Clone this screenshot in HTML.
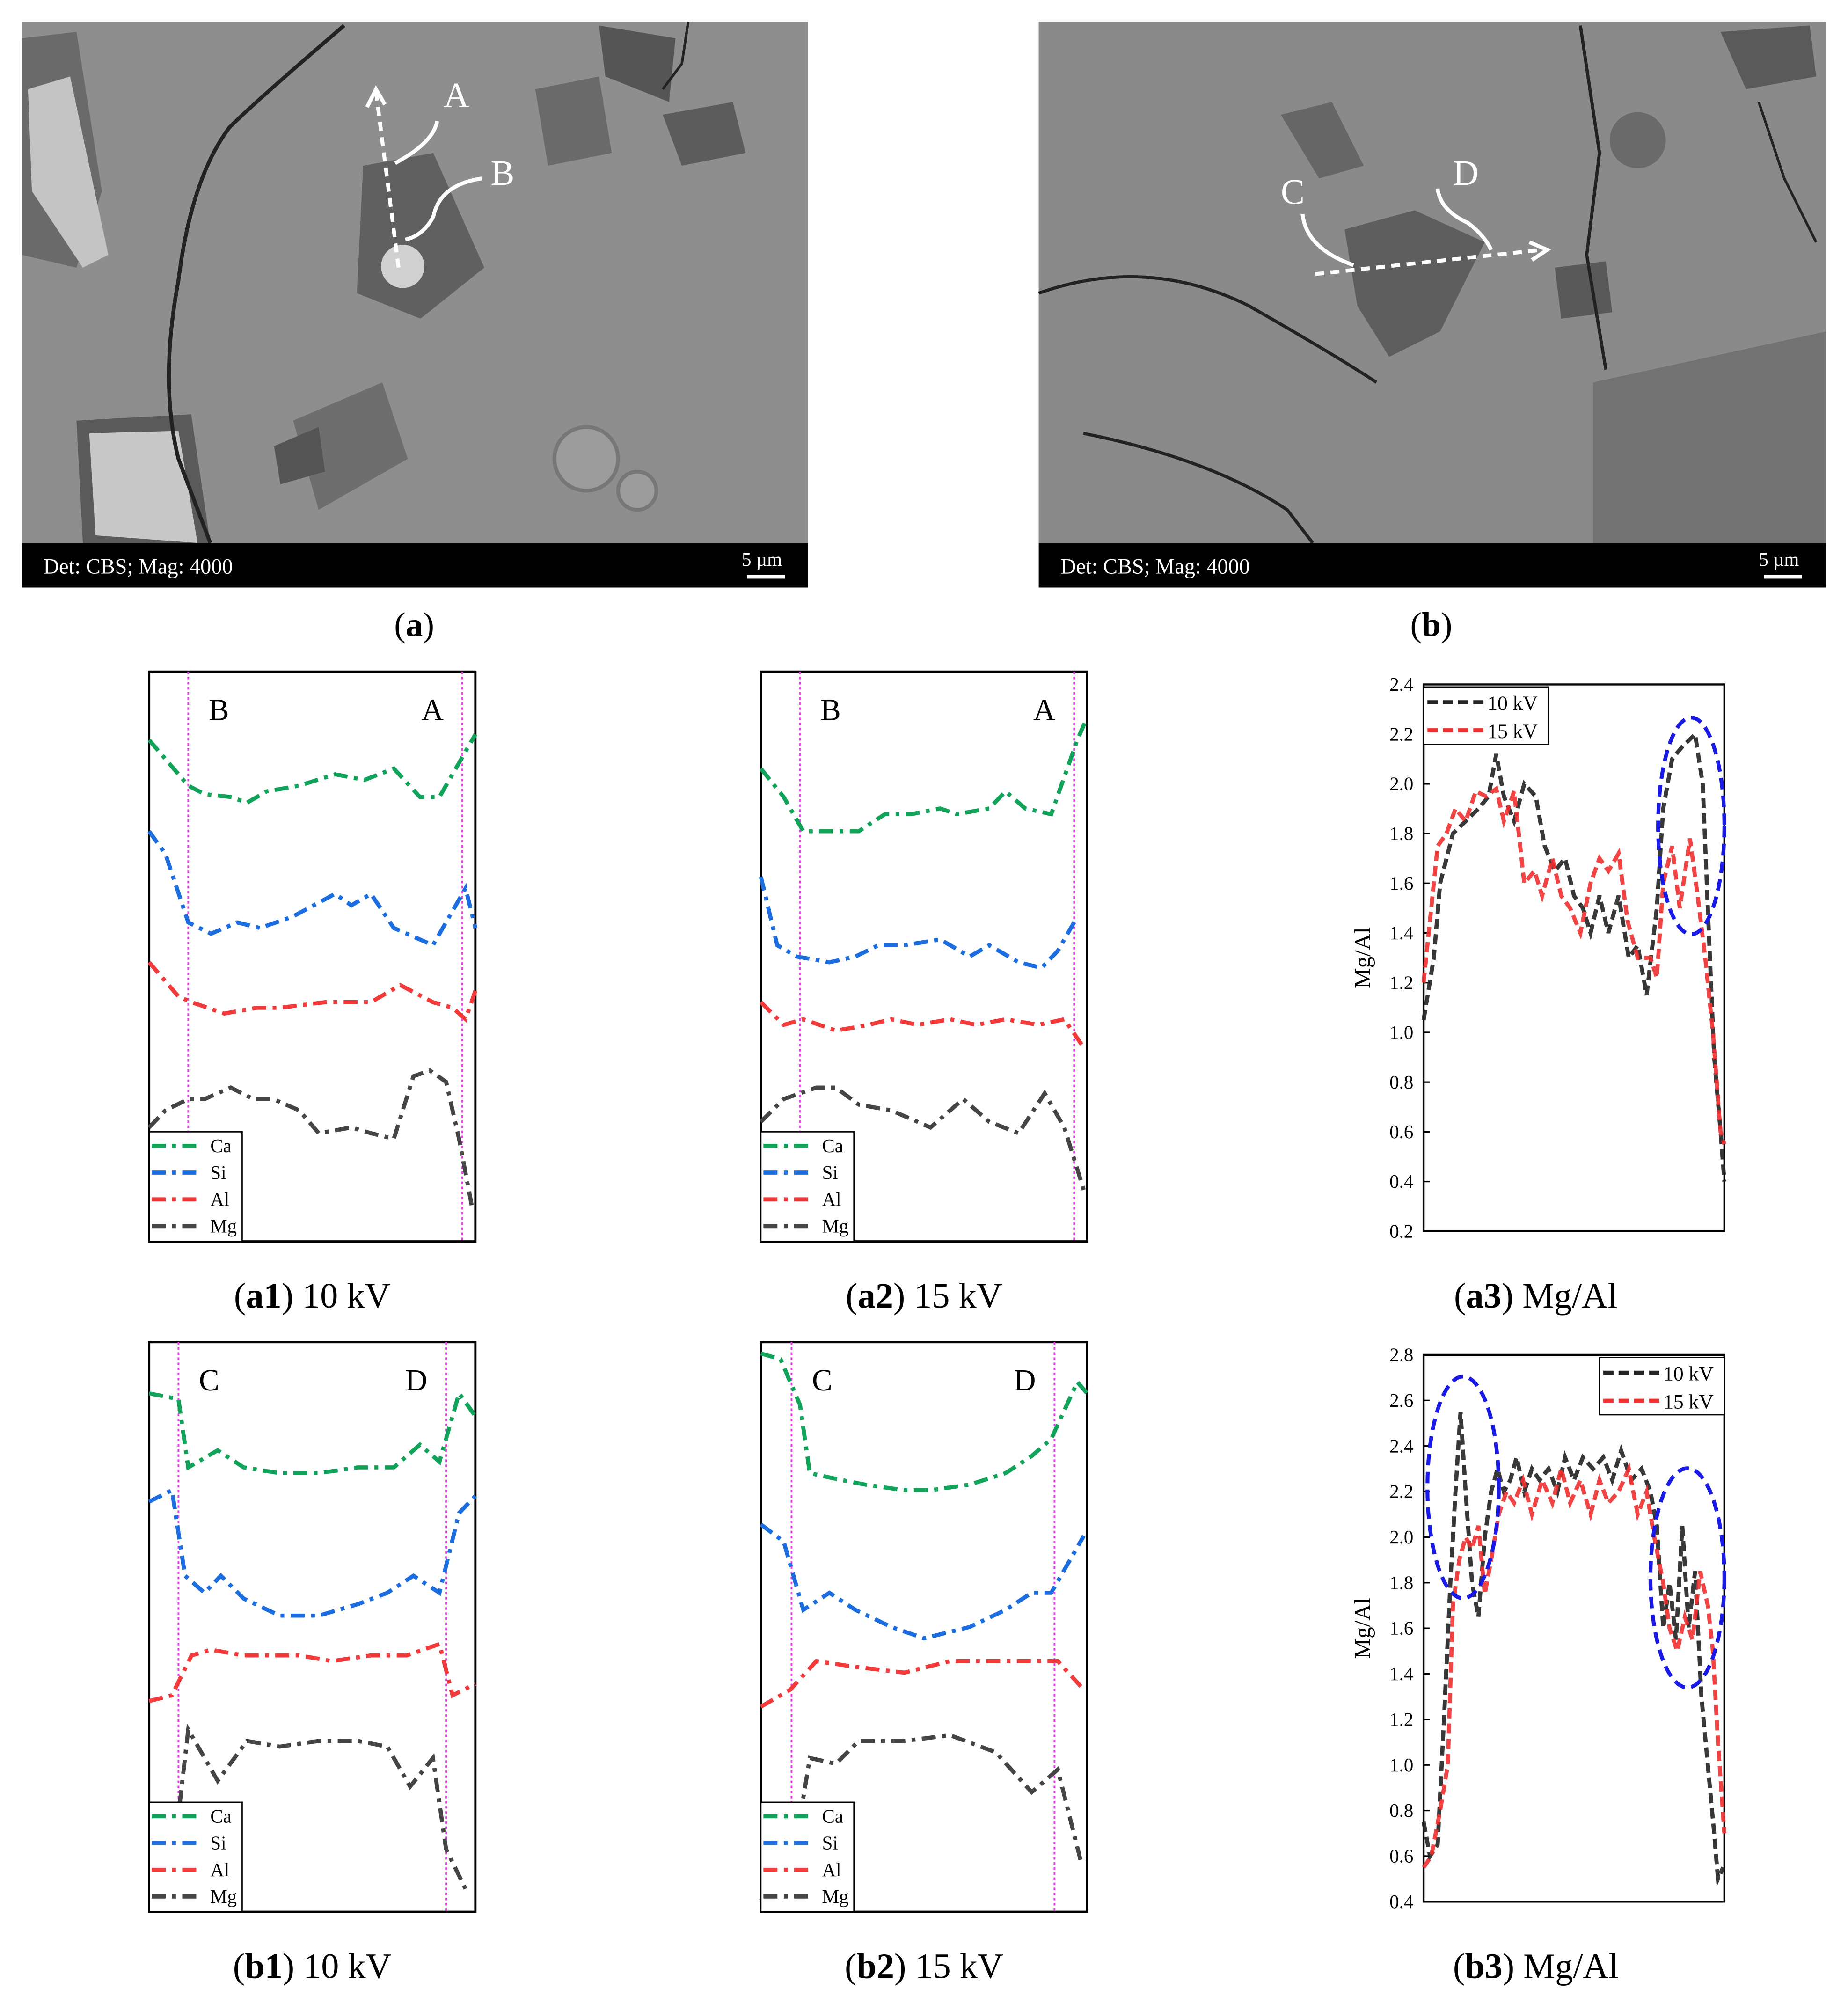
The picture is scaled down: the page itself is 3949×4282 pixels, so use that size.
<!DOCTYPE html>
<html><head><meta charset="utf-8">
<style>
html,body{margin:0;padding:0;background:#fff;}
svg{display:block;}
text{font-family:"Liberation Serif",serif;}
</style></head>
<body>
<svg id="fig" width="3949" height="4282" viewBox="0 0 1450 1572.3" preserveAspectRatio="none" xmlns="http://www.w3.org/2000/svg">
<!-- SEM image a -->
<g>
<rect x="17" y="17" width="617" height="409" fill="#8e8e8e"/>
<path d="M17 30 L60 25 L80 150 L60 210 L17 200Z" fill="#6a6a6a"/>
<path d="M22 70 L55 60 L85 200 L65 210 L25 150Z" fill="#c4c4c4"/>
<path d="M60 330 L150 325 L165 426 L65 426Z" fill="#5a5a5a"/>
<path d="M70 340 L140 338 L155 426 L75 420Z" fill="#c8c8c8"/>
<path d="M285 130 L340 120 L380 210 L330 250 L280 230Z" fill="#606060"/>
<circle cx="316" cy="209" r="17" fill="#d0d0d0"/>
<path d="M230 330 L300 300 L320 360 L250 400Z" fill="#6e6e6e"/>
<path d="M520 90 L575 80 L585 120 L535 130Z" fill="#5c5c5c"/>
<path d="M420 70 L470 60 L480 120 L430 130Z" fill="#6a6a6a"/>
<path d="M470 20 L530 30 L525 80 L475 60Z" fill="#555"/>
<path d="M215 350 L250 335 L255 370 L220 380Z" fill="#555"/>
<circle cx="460" cy="360" r="25" fill="#9c9c9c" stroke="#777" stroke-width="3"/>
<circle cx="500" cy="385" r="15" fill="#9c9c9c" stroke="#777" stroke-width="3"/>
<path d="M270 20 Q200 80 180 100 Q150 140 140 220 Q125 300 140 360 L165 426" fill="none" stroke="#222" stroke-width="3"/>
<path d="M540 17 L535 50 L520 70" fill="none" stroke="#222" stroke-width="2"/>
<path d="M295 72 L313 212" stroke="#fff" stroke-width="3" stroke-dasharray="7,5" fill="none"/>
<path d="M288 84 L295 70 L302 82" stroke="#fff" stroke-width="3" fill="none"/>
<path d="M343 95 Q340 112 310 128" stroke="#fff" stroke-width="3" fill="none"/>
<path d="M378 140 Q345 145 340 170 Q332 185 318 188" stroke="#fff" stroke-width="3" fill="none"/>
<text x="348" y="84" font-size="28" fill="#fff">A</text>
<text x="385" y="145" font-size="28" fill="#fff">B</text>
<rect x="17" y="426" width="617" height="35" fill="#000"/>
<text x="34" y="450" font-size="17" fill="#fff">Det: CBS; Mag: 4000</text>
<text x="582" y="444" font-size="15" fill="#fff" font-family="Liberation Sans,sans-serif">5 µm</text>
<rect x="586" y="451" width="30" height="3" fill="#fff"/>
</g>
<!-- SEM image b -->
<g>
<rect x="815" y="17" width="618" height="409" fill="#8a8a8a"/>
<path d="M1250 300 L1433 260 L1433 426 L1250 426Z" fill="#727272"/>
<path d="M1055 180 L1110 165 L1165 190 L1130 260 L1090 280 L1065 240Z" fill="#5e5e5e"/>
<path d="M1005 90 L1045 80 L1070 130 L1035 140Z" fill="#666"/>
<path d="M1220 210 L1260 205 L1265 245 L1225 250Z" fill="#595959"/>
<circle cx="1285" cy="110" r="22" fill="#6a6a6a"/>
<path d="M1350 25 L1420 20 L1425 60 L1370 70Z" fill="#5a5a5a"/>
<path d="M815 230 Q900 200 980 240 Q1050 280 1080 300" fill="none" stroke="#222" stroke-width="2.5"/>
<path d="M850 340 Q950 360 1010 400 L1030 426" fill="none" stroke="#222" stroke-width="2.5"/>
<path d="M1240 20 L1255 120 L1245 200 L1260 290" fill="none" stroke="#222" stroke-width="2.5"/>
<path d="M1380 80 L1400 140 L1425 190" fill="none" stroke="#222" stroke-width="2"/>
<path d="M1032 215 L1210 196" stroke="#fff" stroke-width="3" stroke-dasharray="7,5" fill="none"/>
<path d="M1200 190 L1214 196 L1202 204" stroke="#fff" stroke-width="3" fill="none"/>
<path d="M1022 168 Q1025 195 1062 208" stroke="#fff" stroke-width="3" fill="none"/>
<path d="M1128 148 Q1130 165 1152 175 Q1165 185 1170 196" stroke="#fff" stroke-width="3" fill="none"/>
<text x="1005" y="160" font-size="28" fill="#fff">C</text>
<text x="1140" y="145" font-size="28" fill="#fff">D</text>
<rect x="815" y="426" width="618" height="35" fill="#000"/>
<text x="832" y="450" font-size="17" fill="#fff">Det: CBS; Mag: 4000</text>
<text x="1380" y="444" font-size="15" fill="#fff" font-family="Liberation Sans,sans-serif">5 µm</text>
<rect x="1384" y="451" width="30" height="3" fill="#fff"/>
</g>
<text x="325" y="499" font-size="27" text-anchor="middle">(<tspan font-weight="bold">a</tspan>)</text>
<text x="1123" y="499" font-size="27" text-anchor="middle">(<tspan font-weight="bold">b</tspan>)</text>
<text x="245" y="1026" font-size="28" text-anchor="middle">(<tspan font-weight="bold">a1</tspan>) 10 kV</text>
<text x="725" y="1026" font-size="28" text-anchor="middle">(<tspan font-weight="bold">a2</tspan>) 15 kV</text>
<text x="1205" y="1026" font-size="28" text-anchor="middle">(<tspan font-weight="bold">a3</tspan>) Mg/Al</text>
<text x="245" y="1552" font-size="28" text-anchor="middle">(<tspan font-weight="bold">b1</tspan>) 10 kV</text>
<text x="725" y="1552" font-size="28" text-anchor="middle">(<tspan font-weight="bold">b2</tspan>) 15 kV</text>
<text x="1205" y="1552" font-size="28" text-anchor="middle">(<tspan font-weight="bold">b3</tspan>) Mg/Al</text>
</svg>
<script>
// ---- profile data (x: % distance, y: relative intensity 0-100) ----
const a1CaX=[0,12,17,25,30,36,46,57,66,75,83,89,95,100];
const a1CaY=[88,80,78.5,78,77,79,80,82,81,83,78,78,84,89];
const a1SiX=[0,5,12,19,27,34,44,57,62,68,75,87,97,100];
const a1SiY=[72,68,56,54,56,55,57,61,59,61,55,52,62,55];
const a1AlX=[0,9,13,23,33,40,54,62,68,77,87,93,97,100];
const a1AlY=[49,43,42,40,41,41,42,42,42,45,42,41,39,44];
const a1MgX=[0,5,12,17,25,32,38,46,52,62,68,75,81,86,91,95,99];
const a1MgY=[20,23,25,25,27,25,25,23,19,20,19,18,29,30,28,18,6];

const a2CaX=[0,7,13,21,30,38,46,55,60,70,75,81,89,97,100];
const a2CaY=[83,78,72,72,72,75,75,76,75,76,79,76,75,88,92];
const a2SiX=[0,5,11,21,29,36,44,55,64,70,79,86,91,97];
const a2SiY=[64,52,50,49,50,52,52,53,50,52,49,48,51,57];
const a2AlX=[0,7,13,23,33,40,48,58,66,75,85,93,99];
const a2AlY=[42,38,39,37,38,39,38,39,38,39,38,39,34];
const a2MgX=[0,7,17,23,30,40,52,62,70,79,87,93,99];
const a2MgY=[21,25,27,27,24,23,20,25,21,19,26,20,9];

const b1CaX=[0,9,12,21,29,40,52,64,75,83,89,95,100];
const b1CaY=[91,90,78,81,78,77,77,78,78,82,79,91,87];
const b1SiX=[0,7,11,17,22,29,40,52,64,73,81,89,95,100];
const b1SiY=[72,74,59,56,59,55,52,52,54,56,59,56,70,73];
const b1AlX=[0,7,13,19,29,38,46,56,68,79,89,93,100];
const b1AlY=[37,38,45,46,45,45,45,44,45,45,47,38,40];
const b1MgX=[0,7,12,21,30,40,52,64,73,80,87,91,97];
const b1MgY=[6,7,32,23,30,29,30,30,29,22,27,11,4];

const b2CaX=[0,6,12,15,23,32,44,52,64,75,83,89,97,100];
const b2CaY=[98,97,89,77,76,75,74,74,75,77,80,83,93,91];
const b2SiX=[0,7,13,21,29,40,50,64,75,83,89,99];
const b2SiY=[68,65,53,56,53,50,48,50,53,56,56,66];
const b2AlX=[0,9,17,29,44,58,75,91,99];
const b2AlY=[36,39,44,43,42,44,44,44,39];
const b2MgX=[0,11,15,23,30,44,58,72,83,91,98];
const b2MgY=[2,13,27,26,30,30,31,28,21,25,9];

// ---- Mg/Al ratio data ----
const a3X10=[0,8,13,23,33,43,51,57,63,71,79,88,95,103,111,118,125,131,138,145,153,161,168,175,183,188,195,203,213,219,223,228,233,236];
const a3Y10=[1.05,1.3,1.6,1.8,1.85,1.9,1.95,2.12,1.95,1.85,2.0,1.95,1.75,1.65,1.7,1.55,1.5,1.4,1.55,1.4,1.55,1.3,1.35,1.15,1.5,1.9,2.1,2.15,2.2,2.0,1.5,0.9,0.6,0.4];
const a3X15=[0,6,11,18,25,33,41,49,57,63,71,79,87,93,101,108,115,123,131,138,145,153,160,168,178,183,188,195,201,209,215,221,227,233,236];
const a3Y15=[1.2,1.5,1.75,1.8,1.9,1.85,1.97,1.95,1.98,1.85,1.97,1.6,1.65,1.55,1.7,1.55,1.5,1.4,1.6,1.7,1.65,1.72,1.45,1.3,1.3,1.22,1.6,1.75,1.5,1.78,1.55,1.3,1.0,0.6,0.55];
const b3X10=[0,5,11,16,21,25,29,33,38,43,48,53,58,63,68,73,79,85,91,98,105,111,118,125,133,141,148,155,163,171,178,183,188,193,198,203,208,213,218,223,228,231,235];
const b3Y10=[0.75,0.6,0.65,1.2,1.8,2.2,2.55,2.2,1.8,1.65,2.0,2.2,2.3,2.2,2.25,2.35,2.2,2.3,2.25,2.3,2.2,2.35,2.25,2.35,2.3,2.35,2.25,2.38,2.25,2.3,2.2,2.05,1.6,1.8,1.55,2.05,1.6,1.85,1.3,1.0,0.7,0.5,0.55];
const b3X15=[0,6,13,19,23,28,33,38,43,48,53,59,65,71,78,85,93,101,108,115,123,131,138,145,153,161,168,175,181,188,193,199,205,211,217,223,227,231,236];
const b3Y15=[0.55,0.6,0.8,1.0,1.7,1.9,2.0,1.95,2.05,1.75,1.9,2.1,2.2,2.15,2.25,2.1,2.25,2.15,2.3,2.15,2.25,2.1,2.25,2.15,2.2,2.3,2.1,2.2,2.0,1.8,1.6,1.5,1.65,1.55,1.85,1.7,1.5,1.1,0.7];
const a3Ticks=[0.2,0.4,0.6,0.8,1.0,1.2,1.4,1.6,1.8,2.0,2.2,2.4];
const b3Ticks=[0.4,0.6,0.8,1.0,1.2,1.4,1.6,1.8,2.0,2.2,2.4,2.6,2.8];

const NS='http://www.w3.org/2000/svg';
const svg=document.getElementById('fig');
function mk(tag,attrs,parent){const e=document.createElementNS(NS,tag);for(const k in attrs)e.setAttribute(k,attrs[k]);(parent||svg).appendChild(e);return e;}
const COL={Ca:'#12a35a',Si:'#1c6ee0',Al:'#f23a3a',Mg:'#454545'};

function profile(name,x0,y0,w,h,series,mag,lblL,lblR){
  const g=mk('g',{});
  
  
  const sx=v=>x0+v/100*w, sy=v=>y0+h-v/100*h;
  mk('rect',{x:x0,y:y0,width:w,height:h,fill:'#fff',stroke:'#000','stroke-width':1.8},g);
  mag.forEach(m=>{const l=mk('line',{x1:sx(m),x2:sx(m),y1:y0,y2:y0+h,stroke:'#e040e0','stroke-width':1.4,'stroke-dasharray':'2,2'},g);
    
    });
  const t1=mk('text',{x:sx(mag[0])+16,y:y0+38,'font-size':24},g);t1.textContent=lblL;
  
  
  const t2=mk('text',{x:sx(mag[1])-32,y:y0+38,'font-size':24},g);t2.textContent=lblR;
  
  
  series.forEach(s=>{
    const d=s.x.map((v,i)=>(i?'L':'M')+sx(v).toFixed(1)+' '+sy(s.y[i]).toFixed(1)).join(' ');
    const p=mk('path',{d:d,fill:'none',stroke:COL[s.k],'stroke-width':3.2,'stroke-dasharray':'11,5,3,5'},g);
    
    
  });
  const lg=mk('g',{},g);
  
  
  mk('rect',{x:x0,y:y0+h-86,width:73,height:86,fill:'#fff',stroke:'#000','stroke-width':1},lg);
  ['Ca','Si','Al','Mg'].forEach((k,i)=>{
    const yy=y0+h-75+i*21;
    const l=mk('line',{x1:x0+2,x2:x0+40,y1:yy,y2:yy,stroke:COL[k],'stroke-width':3.2,'stroke-dasharray':'11,5,3,5'},lg);
    
    
    const t=mk('text',{x:x0+48,y:yy+5,'font-size':15},lg);t.textContent=k;
    
    
  });
}
profile('a1',117,527,256,447,[{k:'Ca',x:a1CaX,y:a1CaY},{k:'Si',x:a1SiX,y:a1SiY},{k:'Al',x:a1AlX,y:a1AlY},{k:'Mg',x:a1MgX,y:a1MgY}],[12,96],'B','A');
profile('a2',597,527,256,447,[{k:'Ca',x:a2CaX,y:a2CaY},{k:'Si',x:a2SiX,y:a2SiY},{k:'Al',x:a2AlX,y:a2AlY},{k:'Mg',x:a2MgX,y:a2MgY}],[12,96],'B','A');
profile('b1',117,1053,256,447,[{k:'Ca',x:b1CaX,y:b1CaY},{k:'Si',x:b1SiX,y:b1SiY},{k:'Al',x:b1AlX,y:b1AlY},{k:'Mg',x:b1MgX,y:b1MgY}],[9,91],'C','D');
profile('b2',597,1053,256,447,[{k:'Ca',x:b2CaX,y:b2CaY},{k:'Si',x:b2SiX,y:b2SiY},{k:'Al',x:b2AlX,y:b2AlY},{k:'Mg',x:b2MgX,y:b2MgY}],[9.4,90],'C','D');

function ratio(name,x0,y0,w,h,ymin,ymax,ticks,s10,s15,leg,ells){
  const g=mk('g',{});
  
  
  const sx=v=>x0+v/236*w, sy=v=>y0+h-(v-ymin)/(ymax-ymin)*h;
  mk('rect',{x:x0,y:y0,width:w,height:h,fill:'#fff',stroke:'#000','stroke-width':1.6},g);
  ticks.forEach(t=>{
    mk('line',{x1:x0,x2:x0+5,y1:sy(t),y2:sy(t),stroke:'#000','stroke-width':1.2},g);
    const tx=mk('text',{x:x0-8,y:sy(t)+5,'font-size':15,'text-anchor':'end'},g);tx.textContent=t.toFixed(1);
    
    
  });
  const yt=mk('text',{x:0,y:0,'font-size':18,'text-anchor':'middle',transform:`translate(${x0-42},${y0+h/2}) rotate(-90)`},g);yt.textContent='Mg/Al';
  
  
  [[s10,'#222','10kv'],[s15,'#f03030','15kv']].forEach(([s,c,n])=>{
    const d=s.x.map((v,i)=>(i?'L':'M')+sx(v).toFixed(1)+' '+sy(s.y[i]).toFixed(1)).join(' ');
    const p=mk('path',{d:d,fill:'none',stroke:c,'stroke-width':3.2,'stroke-dasharray':'8,4',opacity:0.9},g);
    
    
  });
  ells.forEach(e=>{const el=mk('ellipse',{cx:e[0],cy:e[1],rx:e[2],ry:e[3],fill:'none',stroke:'#1a1ae6','stroke-width':3,'stroke-dasharray':'9,5'},g);
    
    });
  const lg=mk('g',{},g);
  
  
  mk('rect',{x:leg[0],y:leg[1],width:98,height:45,fill:'#fff',stroke:'#000','stroke-width':1},lg);
  [['10 kV','#222'],['15 kV','#f03030']].forEach(([t,c],i)=>{
    const yy=leg[1]+12+i*22;
    const l=mk('line',{x1:leg[0]+3,x2:leg[0]+47,y1:yy,y2:yy,stroke:c,'stroke-width':3.2,'stroke-dasharray':'8,4'},lg);
    
    
    const tx=mk('text',{x:leg[0]+50,y:yy+6,'font-size':16},lg);tx.textContent=t;
    
    
  });
}
ratio('a3',1117,537,236,429,0.2,2.4,a3Ticks,{x:a3X10,y:a3Y10},{x:a3X15,y:a3Y15},[1117,539],[[1327,648,26,85]]);
ratio('b3',1117,1063,236,429,0.4,2.8,b3Ticks,{x:b3X10,y:b3Y10},{x:b3X15,y:b3Y15},[1255,1065],[[1148,1167,28,87],[1324,1238,29,86]]);
</script>
</body></html>
